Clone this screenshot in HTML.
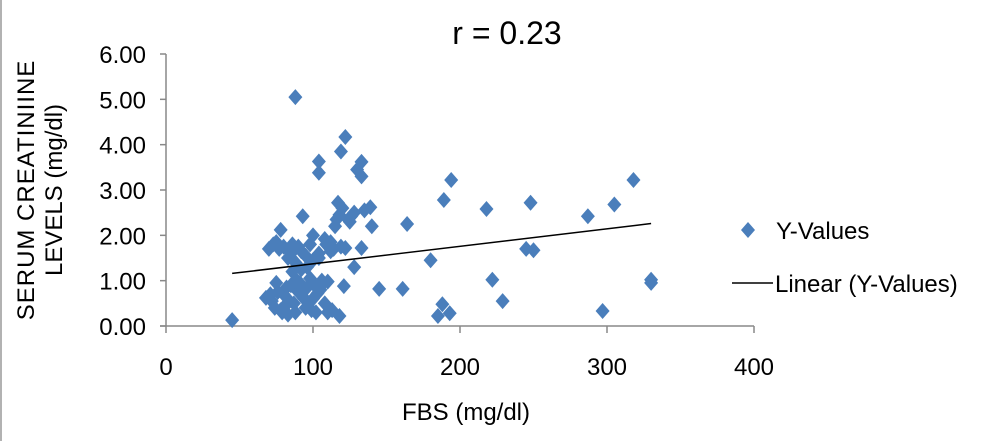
<!DOCTYPE html>
<html><head><meta charset="utf-8"><style>
body{margin:0;background:#fff;}
svg{display:block;font-family:"Liberation Sans",sans-serif;}
</style></head><body>
<svg width="1000" height="441">
<line x1="1" y1="0" x2="1" y2="441" stroke="#999" stroke-width="1.5"/>
<text x="507" y="44" font-size="32" text-anchor="middle">r = 0.23</text>
<g id="axes"></g>
<g id="marks"></g>
<text transform="translate(34,190) rotate(-90)" font-size="24" text-anchor="middle" letter-spacing="1">SERUM CREATINIINE</text>
<text transform="translate(62,190) rotate(-90)" font-size="24" text-anchor="middle">LEVELS (mg/dl)</text>
<text x="466" y="420" font-size="24" text-anchor="middle">FBS (mg/dl)</text>
<g>
<path d="M748,222 L755,230 L748,238 L741,230 Z" fill="#4a7ebb"/>
<text x="776" y="239" font-size="24">Y-Values</text>
<line x1="732" y1="283" x2="773" y2="283" stroke="#000" stroke-width="1.5"/>
<text x="775" y="292" font-size="24">Linear (Y-Values)</text>
</g>
</svg>
<script>
const xTicks=[0,100,200,300,400];
const yTicks=[0,1,2,3,4,5,6];
const yTickLabels=["0.00","1.00","2.00","3.00","4.00","5.00","6.00"];
const xVals=[45,88,122,119,104,104,133,130,133,194,318,189,248,305,218,287,164,139,140,93,117,180,245,250,222,330,330,229,297,188,185,193,145,161,121,128,133,122,108,100,78,70,75,80,86,92,98,104,112,118,124,128,115,113,118,110,120,126,135,
68,72,75,78,80,83,85,87,90,92,95,96,98,100,102,105,107,108,74,82,88,94,99,103,86,110,76,70,84,91,97,89,81,93,101,79,
73,77,85,90,95,100,104,109,114,119,125,88,96,83,106,71,112,116];
const yVals=[0.13,5.05,4.17,3.85,3.63,3.38,3.62,3.45,3.30,3.22,3.22,2.78,2.72,2.68,2.58,2.42,2.25,2.62,2.20,2.42,2.72,1.45,1.70,1.67,1.02,1.02,0.95,0.55,0.33,0.48,0.22,0.28,0.82,0.82,0.88,1.30,1.72,1.72,1.92,2.0,2.12,1.70,1.85,1.75,1.80,1.65,1.80,1.5,1.65,2.45,2.35,2.5,2.2,0.35,0.22,0.3,2.6,2.42,2.55,
0.62,0.55,0.95,0.35,0.7,0.25,0.9,0.5,0.75,1.25,0.4,0.85,1.05,0.6,0.3,0.8,0.95,0.5,0.4,0.85,0.3,0.6,0.35,0.72,1.2,0.98,0.75,0.65,0.55,0.95,0.5,1.0,0.45,0.65,0.9,0.3,
1.8,1.7,1.6,1.75,1.55,1.45,1.6,1.8,1.7,1.75,2.3,1.4,1.3,1.5,1.0,0.7,1.85,2.35];
const trendX=[45,330];
const trendY=[1.16,2.26];
const NS='http://www.w3.org/2000/svg';
const X0=166,X1=754,Y0=326,Y1=54;
const sx=v=>X0+(v-0)/(400-0)*(X1-X0);
const sy=v=>Y0-(v-0)/(6-0)*(Y0-Y1);
const axes=document.getElementById('axes'),marks=document.getElementById('marks');
function mk(tag,attrs,parent){const e=document.createElementNS(NS,tag);for(const k in attrs)e.setAttribute(k,attrs[k]);parent.appendChild(e);return e;}
const ya=mk('line',{x1:X0,y1:Y1,x2:X0,y2:Y0,stroke:'#888','stroke-width':1.5},axes);


const xa=mk('line',{x1:X0-6,y1:Y0,x2:X1,y2:Y0,stroke:'#888','stroke-width':1.5},axes);


yTicks.forEach((t,i)=>{
  const l=mk('line',{x1:X0-6,y1:sy(t),x2:X0,y2:sy(t),stroke:'#888','stroke-width':1.5},axes);
  
  
  const tx=mk('text',{x:146,y:sy(t)+9,'font-size':24,'text-anchor':'end'},axes);
  tx.textContent=yTickLabels[i];
  
  
});
xTicks.forEach(t=>{
  const l=mk('line',{x1:sx(t),y1:Y0,x2:sx(t),y2:Y0+7,stroke:'#888','stroke-width':1.5},axes);
  
  
  const tx=mk('text',{x:sx(t),y:375,'font-size':24,'text-anchor':'middle'},axes);
  tx.textContent=String(t);
  
  
});
xVals.forEach((xv,i)=>{
  const cx=sx(xv),cy=sy(yVals[i]);
  const p=mk('path',{d:`M${cx},${cy-8} L${cx+7},${cy} L${cx},${cy+8} L${cx-7},${cy} Z`,fill:'#4a7ebb'},marks);
  
  
});
const tl=mk('line',{x1:sx(trendX[0]),y1:sy(trendY[0]),x2:sx(trendX[1]),y2:sy(trendY[1]),stroke:'#000','stroke-width':1.5},marks);


</script>
</body></html>
